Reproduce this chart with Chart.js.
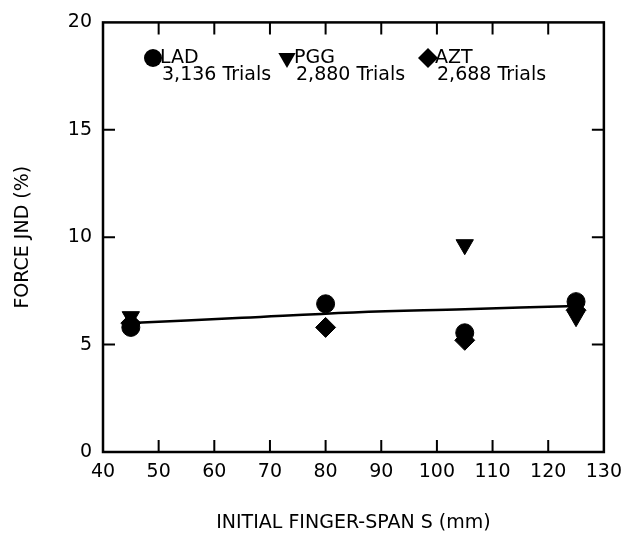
<!DOCTYPE html>
<html>
<head>
<meta charset="utf-8">
<script src="https://cdn.jsdelivr.net/npm/chart.js@4.4.1/dist/chart.umd.min.js"></script>
<style>
  html, body { margin: 0; padding: 0; background: #fff; }
  #wrap { width: 631px; height: 542px; }
</style>
</head>
<body>
<div id="wrap"><canvas id="jndChart" width="631" height="542"></canvas></div>
<script>
// tick labels
const xTicks = [40, 50, 60, 70, 80, 90, 100, 110, 120, 130];
const yTicks = [0, 5, 10, 15, 20];

// finger spans tested (mm)
const spans = [45, 80, 105, 125];

// force JND (%) per subject
const ladValues = [5.8, 6.9, 5.55, 7.0];
const pggValues = [6.3, null, 9.65, 6.3];
const aztValues = [6.0, 5.8, 5.2, 6.6];

// fitted curve
const fitX = [45, 65, 85, 105, 125];
const fitY = [6.0, 6.25, 6.5, 6.65, 6.8];

const seriesNames = ["LAD", "PGG", "AZT"];
const trialCounts = ["3,136 Trials", "2,880 Trials", "2,688 Trials"];

const FONT = "'DejaVu Sans', 'Liberation Sans', sans-serif";

const pts = (xs, ys) => xs.map((x, i) => ({ x, y: ys[i] })).filter(p => p.y !== null);

const markers = [
    { pointStyle: "circle", radius: 9, rotation: 0 },
    { pointStyle: "triangle", radius: 10, rotation: 180 },
    { pointStyle: "rectRot", radius: 10, rotation: 0 }
];

// inward ticks + top/right frame
const frame = {
    id: "frame",
    afterDraw(chart) {
        const { ctx, chartArea: a, scales } = chart;
        ctx.save();
        ctx.strokeStyle = "#000";
        ctx.lineWidth = 2.5;
        ctx.strokeRect(a.left, a.top, a.right - a.left, a.bottom - a.top);
        ctx.lineWidth = 2;
        const len = 12;
        ctx.beginPath();
        xTicks.slice(1, -1).forEach(v => {
            const px = scales.x.getPixelForValue(v);
            ctx.moveTo(px, a.bottom); ctx.lineTo(px, a.bottom - len);
            ctx.moveTo(px, a.top); ctx.lineTo(px, a.top + len);
        });
        yTicks.slice(1, -1).forEach(v => {
            const py = scales.y.getPixelForValue(v);
            ctx.moveTo(a.left, py); ctx.lineTo(a.left + len, py);
            ctx.moveTo(a.right, py); ctx.lineTo(a.right - len, py);
        });
        ctx.stroke();
        ctx.restore();
    }
};

// legend inside plot
const inlineLegend = {
    id: "inlineLegend",
    afterDatasetsDraw(chart) {
        const { ctx, chartArea: a } = chart;
        const offs = [50, 184, 325];
        ctx.save();
        ctx.fillStyle = "#000";
        ctx.strokeStyle = "#000";
        ctx.textBaseline = "middle";
        ctx.textAlign = "left";
        seriesNames.forEach((name, i) => {
            const mx = a.left + offs[i];
            const my = 58;
            Chart.helpers.drawPoint(ctx, markers[i], mx, my);
            ctx.font = "19px " + FONT;
            ctx.fillText(name, mx + 7, my);
            ctx.fillText(trialCounts[i], mx + 9, my + 17);
        });
        ctx.restore();
    }
};

const ds = (label, data, i, order) => ({
    label,
    data,
    type: "scatter",
    backgroundColor: "#000",
    borderColor: "#000",
    pointStyle: markers[i].pointStyle,
    pointRadius: markers[i].radius,
    pointRotation: markers[i].rotation,
    pointHoverRadius: markers[i].radius,
    order
});

new Chart(document.getElementById("jndChart").getContext("2d"), {
    type: "scatter",
    data: {
        datasets: [
            ds(seriesNames[0], pts(spans, ladValues), 0, 1),
            ds(seriesNames[1], pts(spans, pggValues), 1, 2),
            ds(seriesNames[2], pts(spans, aztValues), 2, 3),
            {
                label: "fit",
                type: "line",
                data: pts(fitX, fitY),
                borderColor: "#000",
                borderWidth: 2.5,
                pointRadius: 0,
                tension: 0.4,
                fill: false,
                order: 4
            }
        ]
    },
    options: {
        responsive: false,
        animation: false,
        layout: { padding: { top: 19, right: 27, left: 0, bottom: 0 } },
        plugins: { legend: { display: false }, tooltip: { enabled: false } },
        scales: {
            x: {
                type: "linear",
                min: 40,
                max: 130,
                afterBuildTicks: s => { s.ticks = xTicks.map(v => ({ value: v })); },
                afterFit: s => { s.height = 90; },
                grid: { display: false, drawTicks: false },
                border: { display: false },
                ticks: { color: "#000", font: { family: FONT, size: 19 }, padding: 9, maxRotation: 0, autoSkip: false },
                title: {
                    display: true,
                    text: "INITIAL FINGER-SPAN S (mm)",
                    color: "#000",
                    font: { family: FONT, size: 19 },
                    padding: { top: 0, bottom: 8 }
                }
            },
            y: {
                type: "linear",
                min: 0,
                max: 20,
                afterBuildTicks: s => { s.ticks = yTicks.map(v => ({ value: v })); },
                afterFit: s => { s.width = 103; },
                grid: { display: false, drawTicks: false },
                border: { display: false },
                ticks: { color: "#000", font: { family: FONT, size: 19 }, padding: 11 },
                title: {
                    display: true,
                    text: "FORCE JND (%)",
                    color: "#000",
                    font: { family: FONT, size: 19 },
                    padding: { top: 12, bottom: 0 }
                }
            }
        }
    },
    plugins: [frame, inlineLegend]
});
</script>
</body>
</html>
